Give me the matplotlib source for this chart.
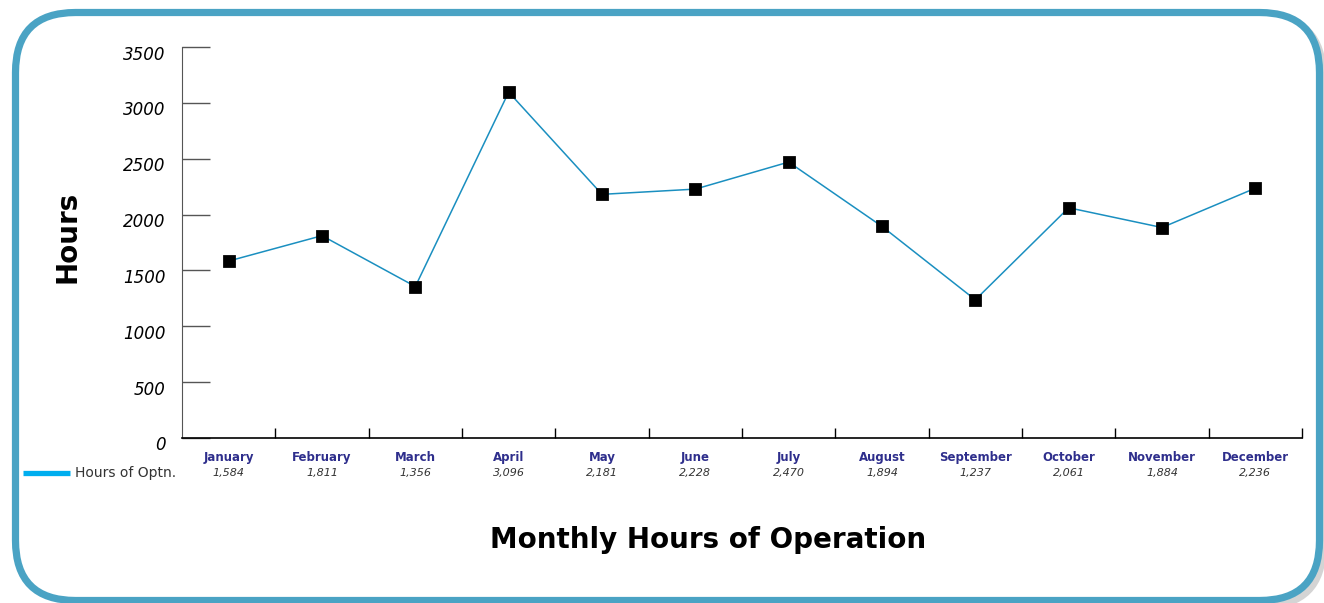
import matplotlib
matplotlib.use("Agg")
import matplotlib.pyplot as plt
import matplotlib.transforms as mtransforms
from matplotlib.patches import FancyBboxPatch
from matplotlib.lines import Line2D
import numpy as np

months = ["January", "February", "March", "April", "May", "June", "July",
          "August", "September", "October", "November", "December"]
hours = [1584, 1811, 1356, 3096, 2181, 2228, 2470, 1894, 1237, 2061, 1884, 2236]
yticks = [0, 500, 1000, 1500, 2000, 2500, 3000, 3500]
series_name = "Hours of Optn."

W, H = 1324, 603
fig = plt.figure(figsize=(W / 100, H / 100), dpi=100)
fig.patch.set_facecolor("white")

# background frame, drawn in pixel coords
bg = fig.add_axes([0, 0, 1, 1], zorder=0)
bg.set_xlim(0, W)
bg.set_ylim(H, 0)
bg.axis("off")
shadow = FancyBboxPatch((19, 16), 1304, 590, boxstyle="round,pad=0,rounding_size=60",
                        fc="none", ec="#d4d4d4", lw=5)
bg.add_patch(shadow)
frame = FancyBboxPatch((15.5, 12.5), 1304, 588, boxstyle="round,pad=0,rounding_size=60",
                       fc="white", ec="#4aa3c4", lw=5.2)
bg.add_patch(frame)
bg.add_line(Line2D([23, 70], [473, 473], color="#00aeef", lw=3.8, solid_capstyle="butt"))
bg.text(75, 473, series_name, fontsize=10, color="#333333", va="center", ha="left")
bg.text(68, 237, "Hours", fontsize=20, fontweight="heavy", rotation=90,
        ha="center", va="center", color="black")
bg.text(708, 540, "Monthly Hours of Operation", fontsize=20, fontweight="heavy",
        ha="center", va="center", color="black")

# main plot
x0, x1, ytop, ybot = 182, 1302, 47, 438
ax = fig.add_axes([x0 / W, (H - ybot) / H, (x1 - x0) / W, (ybot - ytop) / H], zorder=1)
ax.patch.set_alpha(0)
x = np.arange(len(months)) + 0.5
line, = ax.plot(x, hours, color="#1a8fc0", lw=1.1, marker="s", ms=7.5, mfc="black",
                mec="black", mew=2, zorder=3)
ax.set_xlim(0, len(months))
ax.set_ylim(0, 3500)
for s in ["top", "right"]:
    ax.spines[s].set_visible(False)
ax.spines["left"].set_color("#555555")
ax.spines["bottom"].set_color("black")
ax.spines["bottom"].set_linewidth(1.2)

ax.set_yticks(yticks)
ax.set_yticklabels([str(v) for v in yticks], fontsize=12, style="italic")
ax.tick_params(axis="y", direction="in", length=20, width=1, color="#555555", pad=12)
shift = mtransforms.ScaledTranslation(0, -0.055, fig.dpi_scale_trans)
for lab in ax.get_yticklabels():
    lab.set_transform(lab.get_transform() + shift)
ax.set_xticks(np.arange(1, len(months) + 1))
ax.set_xticklabels([])
ax.tick_params(axis="x", direction="in", length=7, width=1, color="black")

trans = ax.get_xaxis_transform()
for xi, m, v in zip(x, months, hours):
    ax.text(xi, -0.05, m, transform=trans, ha="center", va="center", fontsize=8.5,
            fontweight="bold", color="#2e2e8c")
    ax.text(xi, -0.09, f"{v:,}", transform=trans, ha="center", va="center", fontsize=8,
            style="italic", color="#333333")

fig.savefig("out.png", dpi=100)
